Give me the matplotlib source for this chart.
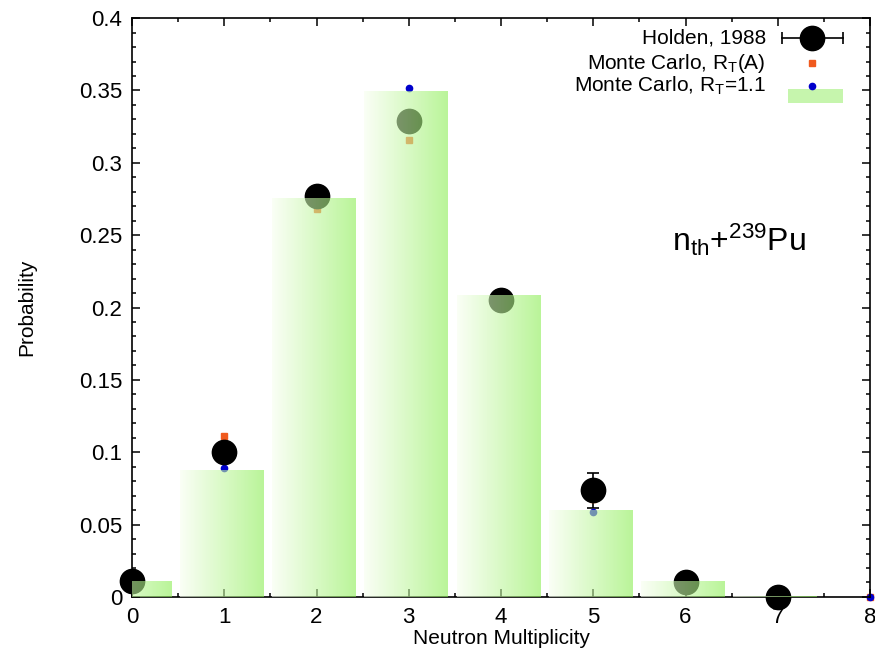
import numpy as np
import matplotlib
matplotlib.use('Agg')
import matplotlib.pyplot as plt
from matplotlib.patches import Rectangle
from matplotlib.ticker import MultipleLocator, FuncFormatter

plt.rcParams['font.family'] = ['Liberation Sans', 'DejaVu Sans']
plt.rcParams['mathtext.fontset'] = 'custom'
plt.rcParams['mathtext.rm'] = 'Liberation Sans'
plt.rcParams['mathtext.it'] = 'Liberation Sans:italic'

###################################################################
# neutron multiplicity distribution, n_th + 239Pu
nu_exp = [0, 1, 2, 3, 4, 5, 6, 7]
p_holden = [0.0108, 0.1003, 0.2772, 0.3286, 0.2052, 0.0736, 0.0101, 0.0003]
err_holden = [0.002, 0.004, 0.003, 0.005, 0.006, 0.012, 0.004, 0.001]

nu_mc = [0, 1, 2, 3, 4, 5, 6, 7, 8]
p_mc_rta = [0.0110, 0.1110, 0.2680, 0.3160, 0.2000, 0.0680, 0.0105, 0.0008, 0.0]
p_mc_11 = [0.0100, 0.0890, 0.2740, 0.3516, 0.2080, 0.0587, 0.0100, 0.0004, 0.0]

nu_hist = [0, 1, 2, 3, 4, 5, 6, 7]
p_hist = [0.0104, 0.0877, 0.2757, 0.3496, 0.2086, 0.0600, 0.0104, 0.0005]
###################################################################

fig = plt.figure(figsize=(8.75, 6.70), dpi=100)
ax = fig.add_axes([0.1509, 0.109, 0.8434, 0.864])

ax.errorbar(nu_exp, p_holden, yerr=err_holden, fmt='o', color='k', ms=17.5,
            elinewidth=1.2, capsize=4, capthick=1.2, zorder=2, clip_on=False)
ax.plot(nu_mc, p_mc_rta, 's', color='#f05a1e', ms=4.5, zorder=2, clip_on=False)
ax.plot(nu_mc, p_mc_11, 'o', color='#0000cc', ms=4.5, zorder=2, clip_on=False)

# histogram boxes, filled with a white -> green ramp
bars = ax.bar(np.array(nu_hist) - 0.025, p_hist, width=0.91,
              color='none', edgecolor='none', zorder=3)
ramp = np.zeros((1, 256, 4))
c_left = np.array([248, 255, 240]) / 255.
c_right = np.array([140, 238, 85]) / 255.
t = np.linspace(0, 1, 256)
ramp[0, :, :3] = c_left[None, :] * (1 - t[:, None]) + c_right[None, :] * t[:, None]
ramp[0, :, 3] = 1.0
for b in bars:
    x0, y0 = b.get_x(), b.get_y()
    ax.imshow(ramp, extent=(x0, x0 + b.get_width(), y0, y0 + b.get_height()),
              aspect='auto', alpha=0.6, zorder=3, interpolation='bilinear')

ax.set_xlim(0, 8)
ax.set_ylim(0, 0.4)
ax.xaxis.set_major_locator(MultipleLocator(1))
ax.xaxis.set_minor_locator(MultipleLocator(0.5))
ax.yaxis.set_major_locator(MultipleLocator(0.05))
ax.yaxis.set_minor_locator(MultipleLocator(0.01))
ax.yaxis.set_major_formatter(FuncFormatter(lambda v, pos: '%g' % round(v, 3)))
ax.tick_params(which='both', direction='in', top=True, right=True, width=1.1,
               labelsize=16, colors='k')
ax.tick_params(which='major', length=6, pad=7)
ax.tick_params(which='minor', length=3)
for s in ax.spines.values():
    s.set_linewidth(1.2)

ax.set_xlabel('Neutron Multiplicity', fontsize=15)
ax.set_ylabel('Probability', fontsize=15)
ax.xaxis.set_label_coords(0.5, -0.056)
ax.yaxis.set_label_coords(-0.130, 0.5)

ax.text(0.732, 0.617, r'$\mathrm{n_{th}}$+$\mathrm{^{239}}$Pu', fontsize=23,
        transform=ax.transAxes, va='center', ha='left')

# key, drawn by hand in gnuplot style
tx, mx = 0.859, 0.921
rows = [0.965, 0.922, 0.883]
ax.text(tx, rows[0], 'Holden, 1988', fontsize=15, ha='right', va='center',
        transform=ax.transAxes)
ax.text(tx, rows[1], r'Monte Carlo, R$_\mathrm{T}$(A)', fontsize=15, ha='right',
        va='center', transform=ax.transAxes)
ax.text(tx, rows[2], r'Monte Carlo, R$_\mathrm{T}$=1.1', fontsize=15, ha='right',
        va='center', transform=ax.transAxes)
ax.plot([0.881, 0.963], [rows[0], rows[0]], '-|', color='k', lw=1.2, ms=8,
        mew=1.2, transform=ax.transAxes, clip_on=False, zorder=4)
ax.plot([mx], [rows[0]], 'o', color='k', ms=17.5, transform=ax.transAxes, zorder=4)
ax.plot([mx], [rows[1]], 's', color='#f05a1e', ms=4.5, transform=ax.transAxes, zorder=4)
ax.add_patch(Rectangle((0.889, 0.853), 0.074, 0.024, facecolor='#c6f5ad',
                       edgecolor='none', transform=ax.transAxes, zorder=4))
ax.plot([mx], [rows[2]], 'o', color='#0000cc', ms=4.5, transform=ax.transAxes, zorder=5)

fig.savefig('out.png', dpi=100)
